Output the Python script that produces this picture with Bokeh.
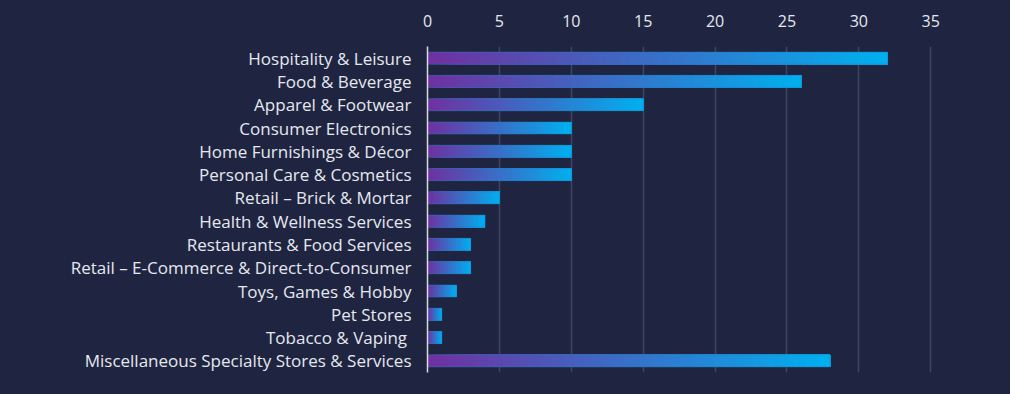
from bokeh.plotting import figure
from bokeh.models import ColumnDataSource, FactorRange, Range1d, FixedTicker
from bokeh.embed import file_html
from bokeh.resources import INLINE

categories = [
    "Hospitality & Leisure",
    "Food & Beverage",
    "Apparel & Footwear",
    "Consumer Electronics",
    "Home Furnishings & Décor",
    "Personal Care & Cosmetics",
    "Retail – Brick & Mortar",
    "Health & Wellness Services",
    "Restaurants & Food Services",
    "Retail – E-Commerce & Direct-to-Consumer",
    "Toys, Games & Hobby",
    "Pet Stores",
    "Tobacco & Vaping ",
    "Miscellaneous Specialty Stores & Services",
]
values = [32, 26, 15, 10, 10, 10, 5, 4, 3, 3, 2, 1, 1, 28]
x_ticks = [0, 5, 10, 15, 20, 25, 30, 35]

BG = "#1f2541"
C0 = (0x70, 0x30, 0xa0)
C1 = (0x00, 0xb0, 0xf0)
N = 80

# gradient slices built from the data; each slice runs to the bar end so
# later (bluer) slices cover earlier ones without seams
ys, lefts, rights, colors = [], [], [], []
for cat, v in zip(categories, values):
    for i in range(N):
        t = (i + 0.5) / N
        c = tuple(int(round(a + (b - a) * t)) for a, b in zip(C0, C1))
        ys.append(cat)
        lefts.append(v * i / N)
        rights.append(v)
        colors.append("#%02x%02x%02x" % c)
grad = ColumnDataSource(dict(y=ys, left=lefts, right=rights, color=colors))
outline = ColumnDataSource(dict(y=categories, right=values))

W, H = 1010, 394
p = figure(
    width=W, height=H,
    y_range=FactorRange(factors=list(reversed(categories)), range_padding=0),
    x_range=Range1d(0, 35.4),
    x_axis_location="above",
    output_backend="svg", toolbar_location=None,
    background_fill_color=None, border_fill_color=BG,
    min_border_left=427, min_border_right=74,
    min_border_top=46, min_border_bottom=22,
)
p.outline_line_color = None
p.outline_line_alpha = 0

p.hbar(y="y", left="left", right="right", height=0.52, color="color",
       line_color=None, source=grad)
p.hbar(y="y", left=0, right="right", height=0.52, fill_color=None,
       line_color="#1b7fc0", line_alpha=0.45, line_width=1, source=outline)

# x axis (top)
xa = p.xaxis[0]
xa.ticker = FixedTicker(ticks=x_ticks)
xa.axis_line_color = None
xa.major_tick_line_color = None
xa.minor_tick_line_color = None
xa.major_label_text_color = "#e6e8ef"
xa.major_label_text_font = "Open Sans"
xa.major_label_text_font_size = "16px"
xa.major_label_standoff = 14

# y axis
ya = p.yaxis[0]
ya.axis_line_color = "#d9d9de"
ya.axis_line_width = 1.5
ya.major_tick_line_color = None
ya.minor_tick_line_color = None
ya.major_label_text_color = "#e6e8ef"
ya.major_label_text_font = "Open Sans"
ya.major_label_text_font_size = "17px"
ya.major_label_standoff = 10

p.xgrid.ticker = FixedTicker(ticks=x_ticks[1:])
p.xgrid.grid_line_color = "#3c4462"
p.xgrid.grid_line_width = 1.5
p.ygrid.grid_line_color = None

html = file_html(p, INLINE)
html = html.replace("<head>", "<head><style>html,body{background:%s;}</style>" % BG, 1)
open("out.html", "w").write(html)
